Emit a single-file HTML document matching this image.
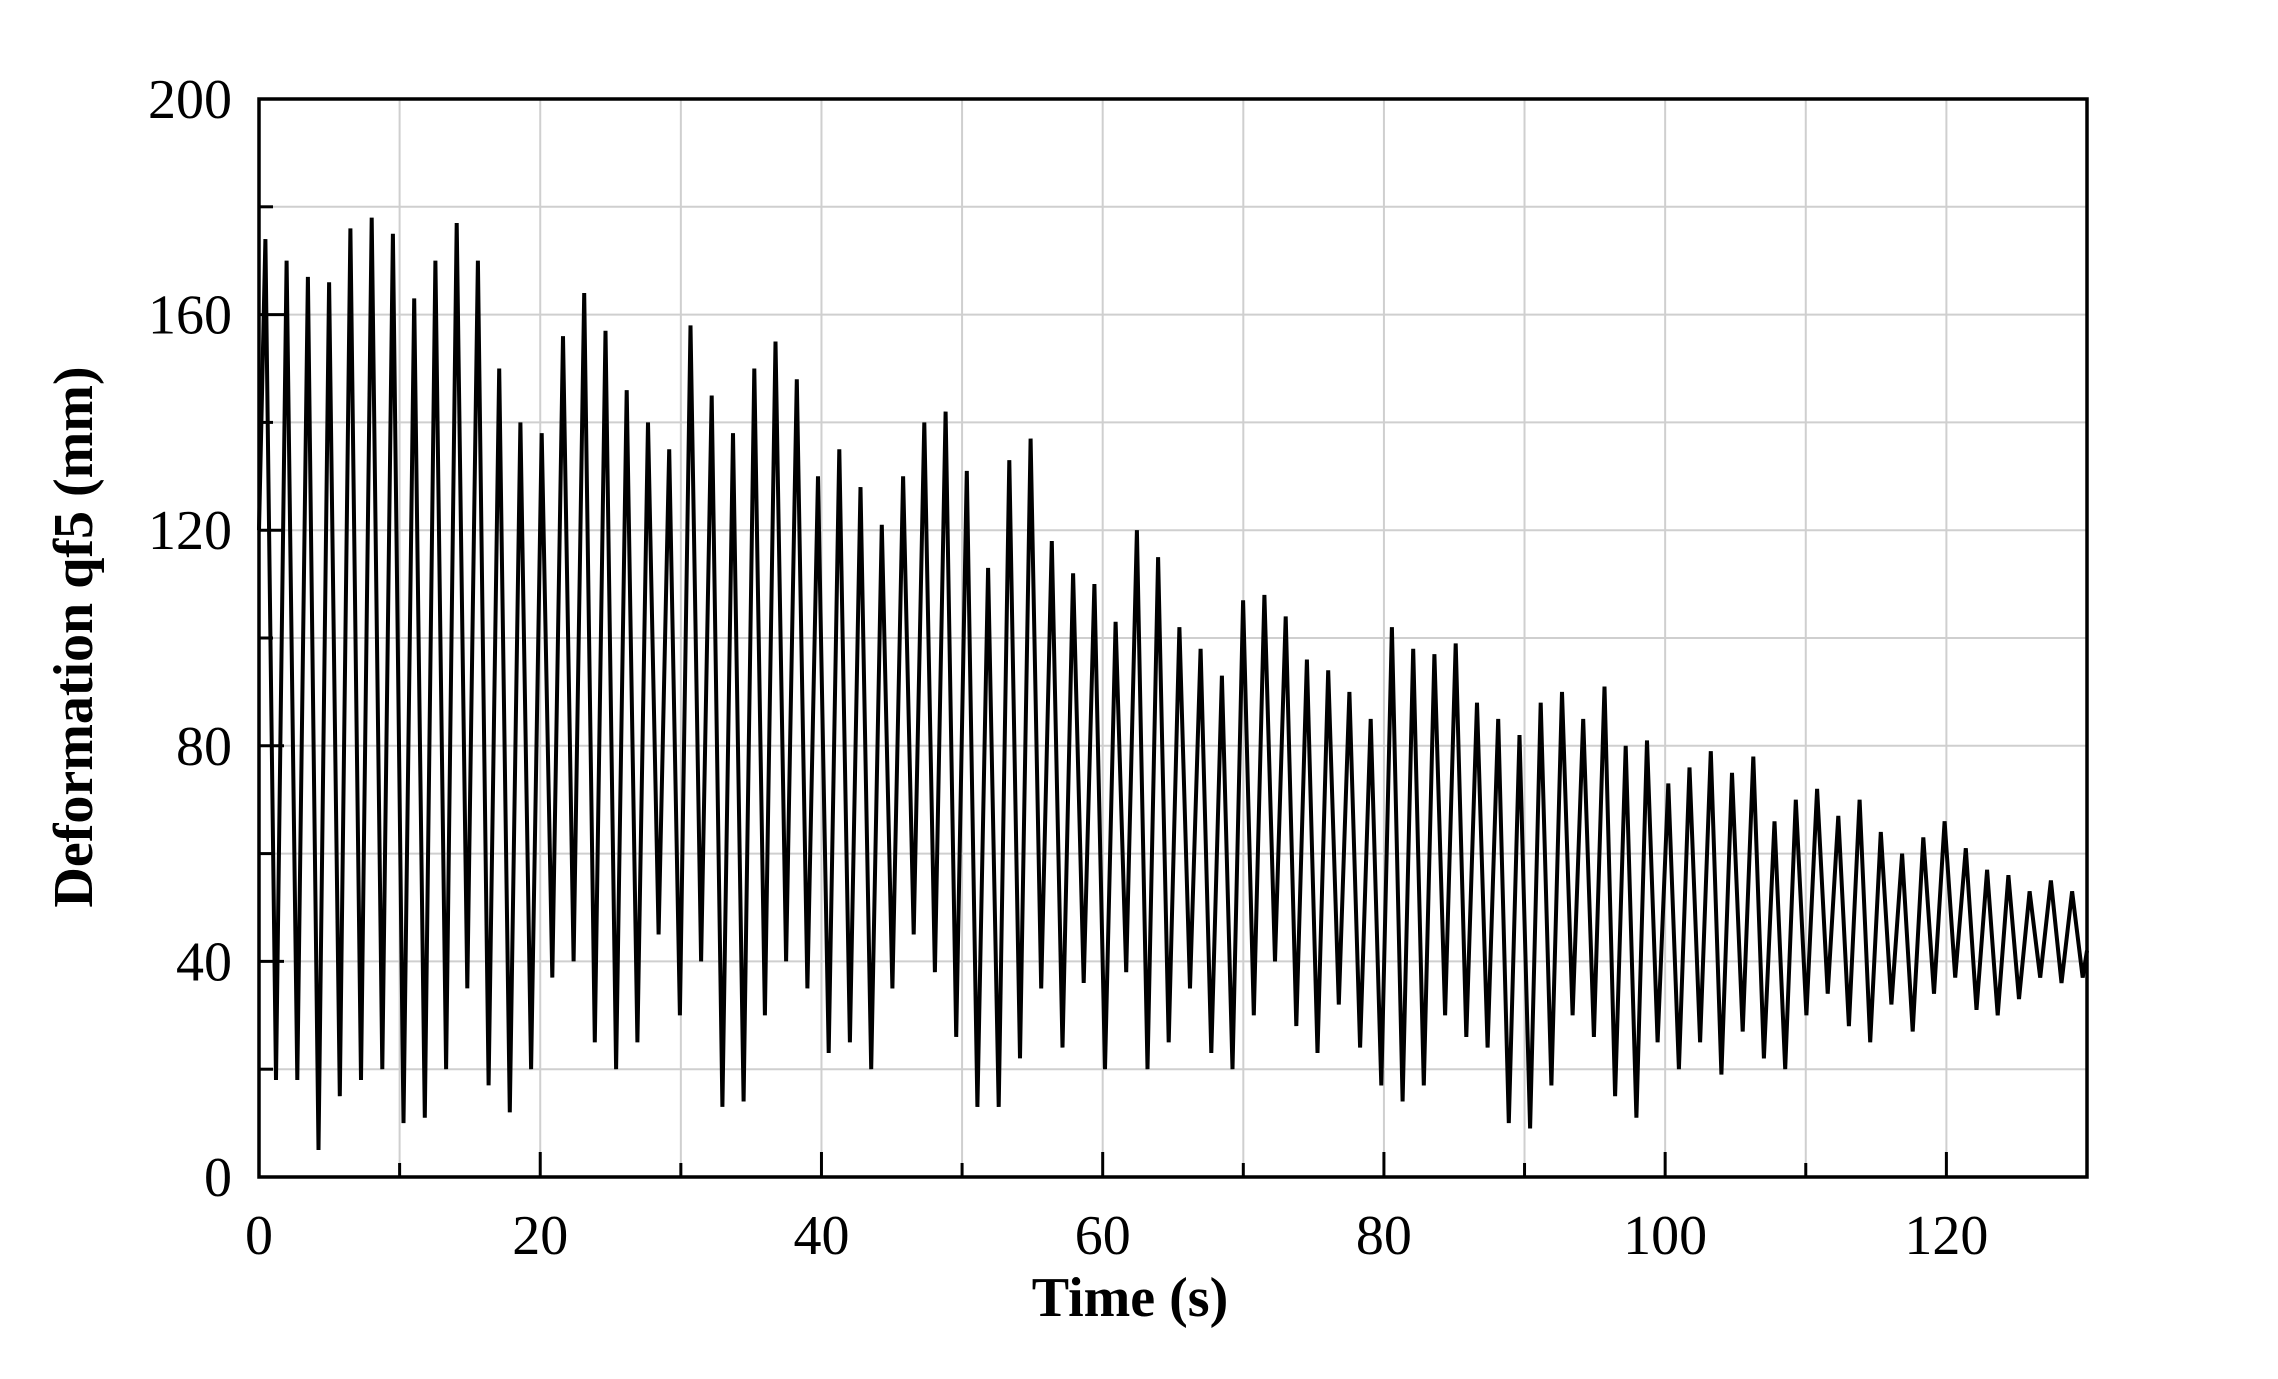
<!DOCTYPE html>
<html><head><meta charset="utf-8"><style>
html,body{margin:0;padding:0;background:#fff;width:2278px;height:1379px;overflow:hidden}
svg text{font-family:"Liberation Serif",serif;fill:#000}
</style></head><body>
<svg id="chart" width="2278" height="1379" xmlns="http://www.w3.org/2000/svg">
<g id="grid"></g>
<g id="ticks"></g>
<polyline id="series" fill="none" stroke="#000" stroke-width="4" stroke-linejoin="miter"/>
<rect x="259" y="99" width="1828" height="1078" fill="none" stroke="#000" stroke-width="3.5"/>
<g id="labels"></g>
<text transform="translate(92,637) rotate(-90)" text-anchor="middle" font-size="56" font-weight="bold">Deformation qf5 (mm)</text>
<text x="1130" y="1316" text-anchor="middle" font-size="56" font-weight="bold">Time (s)</text>
</svg>
<script>
const xTicks=[0,20,40,60,80,100,120];
const yTicks=[0,40,80,120,160,200];
const peakValues=[174,170,167,166,176,178,175,163,170,177,170,150,140,138,156,164,157,146,140,135,158,145,138,150,155,148,130,135,128,121,130,140,142,131,113,133,137,118,112,110,103,120,115,102,98,93,107,108,104,96,94,90,85,102,98,97,99,88,85,82,88,90,85,91,80,81,73,76,79,75,78,66,70,72,67,70,64,60,63,66,61,57,56,53,55,53];
const troughValues=[18,18,5,15,18,20,10,11,20,35,17,12,20,37,40,25,20,25,45,30,40,13,14,30,40,35,23,25,20,35,45,38,26,13,13,22,35,24,36,20,38,20,25,35,23,20,30,40,28,23,32,24,17,14,17,30,26,24,10,9,17,30,26,15,11,25,20,25,19,27,22,20,30,34,28,25,32,27,34,37,31,30,33,37,36,37];
const xMax=130,yMax=200;
const L=259,R=2087,T=99,B=1177;
const sx=v=>L+v/xMax*(R-L), sy=v=>B-v/yMax*(B-T);
const NS='http://www.w3.org/2000/svg';
function mk(tag,attrs,parent){const e=document.createElementNS(NS,tag);for(const k in attrs)e.setAttribute(k,attrs[k]);parent.appendChild(e);return e;}
const grid=document.getElementById('grid'),ticks=document.getElementById('ticks'),labels=document.getElementById('labels');
for(let v=10;v<xMax;v+=10){const l=mk('line',{x1:sx(v),x2:sx(v),y1:T,y2:B,stroke:'#cfcfcf','stroke-width':2},grid);


const t=mk('line',{x1:sx(v),x2:sx(v),y1:B,y2:B-(v%20===0?25:14),stroke:'#000','stroke-width':3},ticks);

}
for(let v=20;v<yMax;v+=20){const l=mk('line',{x1:L,x2:R,y1:sy(v),y2:sy(v),stroke:'#cfcfcf','stroke-width':2},grid);


const t=mk('line',{x1:L,x2:L+(v%40===0?25:14),y1:sy(v),y2:sy(v),stroke:'#000','stroke-width':3},ticks);

}
xTicks.forEach(v=>{const e=mk('text',{x:sx(v),y:1254,'text-anchor':'middle','font-size':56},labels);e.textContent=v;

});
yTicks.forEach(v=>{const e=mk('text',{x:232,y:sy(v)+19,'text-anchor':'end','font-size':56},labels);e.textContent=v;

});
const n=peakValues.length, period=xMax/n;
const pts=[[0,120]];
for(let i=0;i<n;i++){pts.push([(i+0.3)*period,peakValues[i]]);pts.push([(i+0.8)*period,troughValues[i]]);}
pts.push([xMax,42]);
document.getElementById('series').setAttribute('points',pts.map(p=>sx(p[0]).toFixed(1)+','+sy(p[1]).toFixed(1)).join(' '));
</script>
</body></html>
